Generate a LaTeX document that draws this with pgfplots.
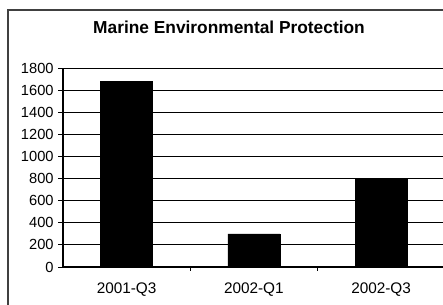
\documentclass[border=0pt]{standalone}
\usepackage{pgfplots}
\pgfplotsset{compat=1.18}
\usepackage{fontspec}
\setmainfont{Liberation Sans}
\begin{document}
\begin{tikzpicture}[x=1pt,y=1pt]
\useasboundingbox (0,0) rectangle (332.25,228);
\draw[black!75, line width=0.8pt] (6,-5) -- (6,220.5) -- (340,220.5);
\node[font=\fontsize{13}{15}\selectfont\bfseries, anchor=base] at (171.75,202.5) {Marine Environmental Protection};
\begin{axis}[
  at={(47.25pt,27.75pt)}, anchor=south west,
  scale only axis, width=286.3pt, height=149.25pt,
  xmin=-0.5, xmax=2.5, ymin=0, ymax=1800,
  ytick={0,200,...,1800},
  xtick={0,1,2}, xticklabels={2001-Q3,2002-Q1,2002-Q3},
  xtick style={draw=none},
  ymajorgrids, major grid style={black, line width=0.6pt},
  axis x line*=bottom, axis y line*=left,
  axis line style={black, line width=0.8pt},
  tick align=outside, major tick length=3.5pt,
  ytick style={black, line width=0.6pt},
  yticklabel style={font=\fontsize{11}{12}\selectfont},
  xticklabel style={font=\fontsize{11.5}{12}\selectfont, yshift=-4.5pt},
  /pgf/number format/assume math mode=true,
  /pgf/number format/set thousands separator={},
  ybar, bar width=39pt,
  clip=false,
]
\addplot[fill=black, draw=black] coordinates {(0,1680) (1,300) (2,800)};
\draw[black, line width=0.6pt] (axis cs:0.5,0) -- ([yshift=-3pt]axis cs:0.5,0);
\draw[black, line width=0.6pt] (axis cs:1.5,0) -- ([yshift=-3pt]axis cs:1.5,0);
\end{axis}
\end{tikzpicture}
\end{document}
